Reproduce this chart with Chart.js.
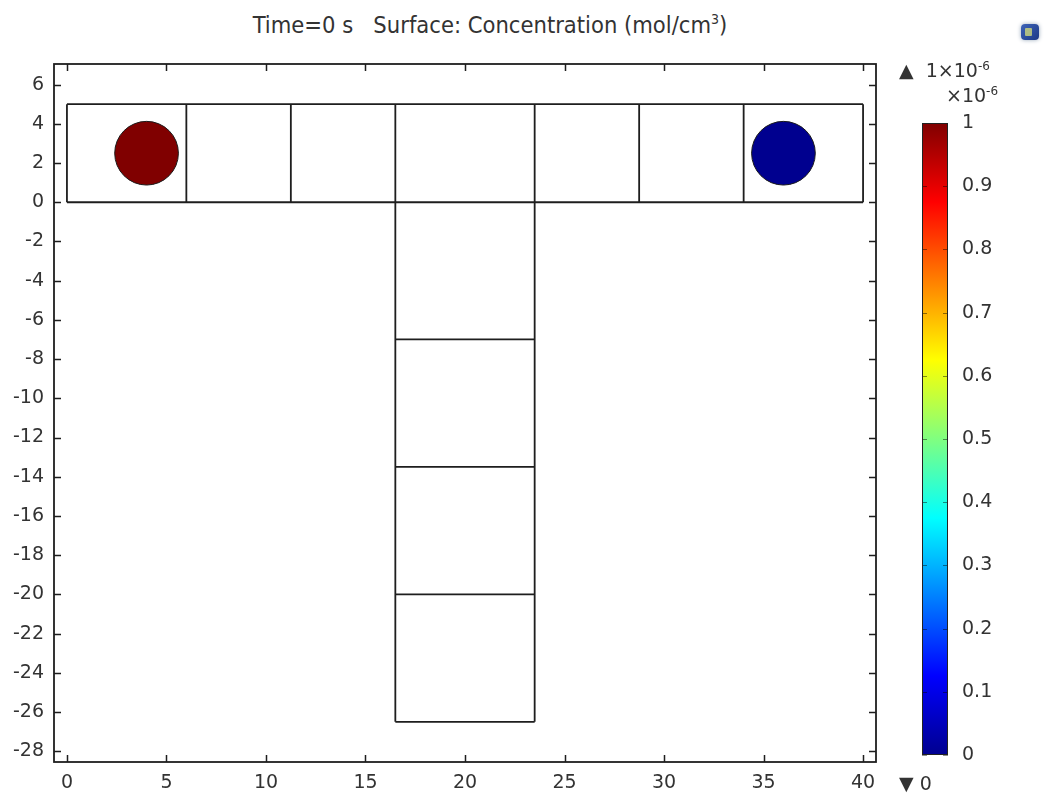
<!DOCTYPE html>
<html>
<head>
<meta charset="utf-8">
<script src="https://cdn.jsdelivr.net/npm/chart.js@4"></script>
<style>
  html, body { margin: 0; padding: 0; background: #fff; }
  body { width: 1050px; height: 798px; position: relative; overflow: hidden;
         font-family: 'DejaVu Sans', sans-serif; color: #333; }
  #main { position: absolute; left: 0; top: 0; }
  #cbar { position: absolute; left: 900px; top: 0; }
  .txt { position: absolute; white-space: nowrap; }
  #title { left: 0; width: 980px; top: 11px; text-align: center;
           font-family: 'DejaVu Sans Condensed', 'DejaVu Sans', sans-serif; font-size: 23.5px; color: #333; }
  #title sup { font-size: 14px; }
  sup { font-size: 12px; }
  #icon { position: absolute; left: 1021px; top: 24px; width: 18px; height: 16px;
          border-radius: 4px; background: linear-gradient(135deg, #3e64b8, #1d3a86);
          box-shadow: 0 0 4px #9ab; }
  #icon:after { content: ''; position: absolute; left: 4px; top: 4px; width: 7px; height: 8px;
          background: #d9e27a; border-radius: 1px; opacity: .75; }
</style>
</head>
<body>
<div id="title" class="txt">Time=0 s&nbsp;&nbsp;&nbsp;Surface: Concentration (mol/cm<sup>3</sup>)</div>
<div id="icon"></div>
<canvas id="main" width="890" height="798"></canvas>
<canvas id="cbar" width="150" height="798"></canvas>
<div class="txt" style="left:899px; top:59px; font-size:19px;">▲&nbsp;&nbsp;1×10<sup>-6</sup></div>
<div class="txt" style="left:946px; top:84px; font-size:19px;">×10<sup>-6</sup></div>
<div class="txt" style="left:899px; top:772px; font-size:19px;">▼ 0</div>
<script>
// geometry (cm) of the T-channel
const channelX = [0, 40];          // top channel x extent
const channelY = [0, 5];           // top channel y extent
const dividerX = [6, 11.25, 16.5, 23.5, 28.75, 34];
const stemX = [16.5, 23.5];
const stemBottom = -26.5;
const stemDividerY = [-7, -13.5, -20];

// circular sources
const circleX = [4, 36];
const circleY = [2.5, 2.5];
const circleR = [1.6, 1.6];
const circleConc = [1e-6, 0];     // mol/cm3

// axes
const xTicks = [0, 5, 10, 15, 20, 25, 30, 35, 40];
const yTicks = [6, 4, 2, 0, -2, -4, -6, -8, -10, -12, -14, -16, -18, -20, -22, -24, -26, -28];
const xRange = [-0.65, 40.65];
const yRange = [-28.55, 7.05];

// colour bar
const cbRange = [0, 1];            // x1e-6
const cbTicks = [0, 0.1, 0.2, 0.3, 0.4, 0.5, 0.6, 0.7, 0.8, 0.9, 1];
const jetStops = ['#00008f', '#0000ff', '#0080ff', '#00ffff', '#80ff80', '#ffff00', '#ff8000', '#ff0000', '#800000'];

function jet(t) {
    const n = jetStops.length - 1;
    const i = Math.min(n, Math.round(t * n));
    return jetStops[i];
}

// build the domain outline as one line dataset with gaps
const seg = [];
function line(x1, y1, x2, y2) { seg.push({ x: x1, y: y1 }, { x: x2, y: y2 }, { x: null, y: null }); }
line(channelX[0], channelY[0], channelX[1], channelY[0]);
line(channelX[1], channelY[0], channelX[1], channelY[1]);
line(channelX[1], channelY[1], channelX[0], channelY[1]);
line(channelX[0], channelY[1], channelX[0], channelY[0]);
dividerX.forEach(x => line(x, channelY[0], x, channelY[1]));
stemX.forEach(x => line(x, channelY[0], x, stemBottom));
line(stemX[0], stemBottom, stemX[1], stemBottom);
stemDividerY.forEach(y => line(stemX[0], y, stemX[1], y));

const circles = circleX.map((x, i) => ({ x, y: circleY[i], r: circleR[i], c: circleConc[i] }));

const tickFont = { family: 'DejaVu Sans', size: 19 };

function radiusPx(c) {
    const s = c.chart.scales.x, d = c.raw;
    return d ? Math.abs(s.getPixelForValue(d.r) - s.getPixelForValue(0)) : 0;
}

// frame and inward tick marks on all four sides
const frame = {
    id: 'frame',
    afterDatasetsDraw(chart) {
        const { ctx, chartArea: a, scales } = chart;
        ctx.save();
        ctx.strokeStyle = '#1e1e1e';
        ctx.lineWidth = 1.8;
        ctx.strokeRect(a.left, a.top, a.right - a.left, a.bottom - a.top);
        ctx.lineWidth = 1.5;
        ctx.beginPath();
        scales.x.ticks.forEach(t => {
            const p = Math.round(scales.x.getPixelForValue(t.value)) + 0.5;
            ctx.moveTo(p, a.bottom); ctx.lineTo(p, a.bottom - 7);
            ctx.moveTo(p, a.top); ctx.lineTo(p, a.top + 7);
        });
        scales.y.ticks.forEach(t => {
            const p = Math.round(scales.y.getPixelForValue(t.value)) + 0.5;
            ctx.moveTo(a.left, p); ctx.lineTo(a.left + 7, p);
            ctx.moveTo(a.right, p); ctx.lineTo(a.right - 7, p);
        });
        ctx.stroke();
        ctx.restore();
    }
};

new Chart(document.getElementById('main'), {
    type: 'scatter',
    data: {
        datasets: [
            { data: circles, showLine: false,
              pointRadius: radiusPx, pointHoverRadius: radiusPx,
              backgroundColor: c => c.raw ? jet(c.raw.c / 1e-6) : '#000',
              borderColor: '#1a1a1a', borderWidth: 1 },
            { data: seg, showLine: true, spanGaps: false, pointRadius: 0,
              borderColor: '#1e1e1e', borderWidth: 1.8 }
        ]
    },
    options: {
        responsive: false, animation: false,
        layout: { padding: { top: 64, right: 14, left: 0, bottom: 0 } },
        plugins: { legend: { display: false }, tooltip: { enabled: false }, title: { display: false } },
        scales: {
            x: { type: 'linear', min: xRange[0], max: xRange[1],
                 afterBuildTicks: s => { s.ticks = xTicks.map(v => ({ value: v })); },
                 afterFit: s => { s.height = 36; },
                 grid: { display: false, drawTicks: false }, border: { display: false },
                 ticks: { color: '#333', font: tickFont, padding: 10, maxRotation: 0 } },
            y: { type: 'linear', min: yRange[0], max: yRange[1],
                 afterBuildTicks: s => { s.ticks = yTicks.map(v => ({ value: v })); },
                 afterFit: s => { s.width = 54; },
                 grid: { display: false, drawTicks: false }, border: { display: false },
                 ticks: { color: '#333', font: tickFont, padding: 10 } }
        }
    },
    plugins: [frame]
});

// colour bar
const cbTickMarks = {
    id: 'cbTickMarks',
    afterDatasetsDraw(chart) {
        const { ctx, chartArea: a, scales } = chart;
        ctx.save();
        ctx.strokeStyle = 'rgba(0,0,0,0.45)';
        ctx.lineWidth = 1;
        ctx.beginPath();
        scales.y.ticks.forEach(t => {
            const p = Math.round(scales.y.getPixelForValue(t.value)) + 0.5;
            ctx.moveTo(a.left, p); ctx.lineTo(a.left + 5, p);
            ctx.moveTo(a.right, p); ctx.lineTo(a.right - 5, p);
        });
        ctx.stroke();
        ctx.strokeStyle = '#222';
        ctx.strokeRect(a.left + 0.5, a.top + 0.5, a.right - a.left - 1, a.bottom - a.top - 1);
        ctx.restore();
    }
};

new Chart(document.getElementById('cbar'), {
    type: 'bar',
    data: {
        labels: [''],
        datasets: [{ data: [cbRange], barPercentage: 1, categoryPercentage: 1, borderWidth: 0,
            backgroundColor: c => {
                const a = c.chart.chartArea;
                if (!a) return '#800000';
                const g = c.chart.ctx.createLinearGradient(0, a.bottom, 0, a.top);
                jetStops.forEach((col, i) => g.addColorStop(i / (jetStops.length - 1), col));
                return g;
            } }]
    },
    options: {
        responsive: false, animation: false,
        layout: { padding: { top: 123, bottom: 43, left: 22, right: 0 } },
        plugins: { legend: { display: false }, tooltip: { enabled: false } },
        scales: {
            x: { display: false },
            y: { position: 'right', min: cbRange[0], max: cbRange[1],
                 afterBuildTicks: s => { s.ticks = cbTicks.map(v => ({ value: v })); },
                 afterFit: s => { s.width = 102; },
                 grid: { display: false, drawTicks: false }, border: { display: false },
                 ticks: { color: '#333', font: tickFont, padding: 14,
                          callback: v => String(+v.toFixed(1)) } }
        }
    },
    plugins: [cbTickMarks]
});
</script>
</body>
</html>
